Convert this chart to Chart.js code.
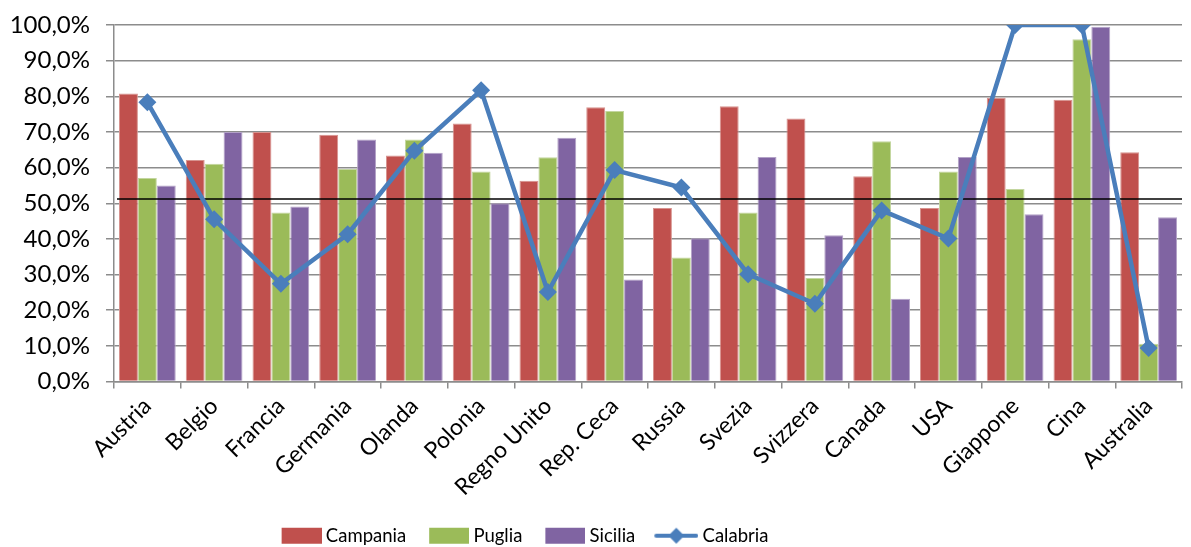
<!DOCTYPE html>
<html>
<head>
<meta charset="utf-8">
<script src="https://cdn.jsdelivr.net/npm/chart.js@4/dist/chart.umd.min.js"></script>
<style>
    body { margin: 0; background: #fff; }
    canvas { display: block; }
</style>
</head>
<body>
<canvas id="chart" width="1191" height="547"></canvas>
<script>
// Chart data
const countries = ['Austria', 'Belgio', 'Francia', 'Germania', 'Olanda', 'Polonia', 'Regno Unito', 'Rep. Ceca',
    'Russia', 'Svezia', 'Svizzera', 'Canada', 'USA', 'Giappone', 'Cina', 'Australia'];
const campania = [80.8, 62.1, 70.0, 69.2, 63.4, 72.4, 56.3, 76.9, 48.7, 77.2, 73.8, 57.6, 48.7, 79.6, 79.0, 64.3];
const puglia   = [57.1, 61.1, 47.4, 59.6, 67.9, 58.9, 62.9, 75.9, 34.8, 47.4, 29.0, 67.4, 58.9, 54.0, 96.0, 10.6];
const sicilia  = [55.0, 70.0, 49.1, 67.9, 64.2, 50.0, 68.4, 28.6, 40.2, 63.0, 41.0, 23.2, 63.0, 46.9, 99.5, 46.1];
const calabria = [78.3, 45.5, 27.4, 41.3, 64.7, 81.7, 25.1, 59.3, 54.4, 30.1, 21.8, 48.0, 40.1, 100, 100, 9.4];
const yTickLabels = ['0,0%', '10,0%', '20,0%', '30,0%', '40,0%', '50,0%', '60,0%', '70,0%', '80,0%', '90,0%', '100,0%'];
const referenceLine = 51.2;

const FONT = "Lato, 'DejaVu Sans', sans-serif";

// Legend swatch images (box for bars, line with diamond for Calabria).
// The image is wider than the legend box so the empty left part acts as spacing.
function makeSwatch(color, isLine) {
    const c = document.createElement('canvas');
    c.width = 66;
    c.height = 18;
    const g = c.getContext('2d');
    if (isLine) {
        g.strokeStyle = color;
        g.lineWidth = 4;
        g.lineCap = 'round';
        g.beginPath();
        g.moveTo(24, 9);
        g.lineTo(64, 9);
        g.stroke();
        g.fillStyle = color;
        g.beginPath();
        g.moveTo(44, 1);
        g.lineTo(52, 9);
        g.lineTo(44, 17);
        g.lineTo(36, 9);
        g.closePath();
        g.fill();
    } else {
        g.fillStyle = color;
        g.fillRect(26, 1, 40, 16);
    }
    return c;
}

// Black reference line, drawn over the bars but under the Calabria line
const refLinePlugin = {
    id: 'refLine',
    afterDatasetDraw(chart, args) {
        if (args.index !== 0) return;
        const { ctx, chartArea, scales } = chart;
        const y = scales.y.getPixelForValue(referenceLine);
        ctx.save();
        ctx.strokeStyle = '#000';
        ctx.lineWidth = 1.5;
        ctx.beginPath();
        ctx.moveTo(chartArea.left + 3, y);
        ctx.lineTo(chartArea.right, y);
        ctx.stroke();
        ctx.restore();
    }
};

// Move the legend to where it sits in the original
const legendShift = {
    id: 'legendShift',
    afterLayout(chart) {
        const lg = chart.legend;
        lg.left -= 80;
        lg.right -= 80;
        lg.top += 8;
        lg.bottom += 8;
    }
};

const ctx = document.getElementById('chart').getContext('2d');
new Chart(ctx, {
    type: 'bar',
    data: {
        labels: countries,
        datasets: [
            { label: 'Campania', data: campania, backgroundColor: '#C0504D', borderColor: '#D7938F', borderWidth: 1 },
            { label: 'Puglia', data: puglia, backgroundColor: '#9BBB59', borderColor: '#C3D69F', borderWidth: 1 },
            { label: 'Sicilia', data: sicilia, backgroundColor: '#8064A2', borderColor: '#B3A2C7', borderWidth: 1 },
            {
                label: 'Calabria',
                type: 'line',
                data: calabria,
                order: -1,
                borderColor: '#4A7EBB',
                backgroundColor: '#4A7EBB',
                borderWidth: 4.5,
                pointStyle: 'rectRot',
                pointRadius: 9,
                pointBorderWidth: 0,
                tension: 0
            }
        ]
    },
    options: {
        responsive: false,
        animation: false,
        layout: { padding: { top: 25, right: 2, left: 0, bottom: 0 } },
        datasets: {
            bar: { categoryPercentage: 0.85, barPercentage: 1.0 }
        },
        scales: {
            x: {
                afterFit: scale => {
                    scale.height = 135;
                    scale.paddingLeft = 0;
                    scale.paddingRight = 0;
                },
                grid: { display: true, drawOnChartArea: false, color: '#8c8c8c', lineWidth: 1.5, tickLength: 7 },
                border: { color: '#8c8c8c', width: 1.5 },
                ticks: {
                    color: '#000',
                    minRotation: 45,
                    maxRotation: 45,
                    padding: 4,
                    font: { family: FONT, size: 23 }
                }
            },
            y: {
                min: 0,
                max: 100,
                afterFit: scale => {
                    scale.width = 114;
                    scale.paddingTop = 0;
                    scale.paddingBottom = 0;
                },
                grid: { color: '#8c8c8c', lineWidth: 1.5, tickLength: 8 },
                border: { color: '#8c8c8c', width: 1.5 },
                ticks: {
                    stepSize: 10,
                    color: '#000',
                    padding: 16,
                    font: { family: FONT, size: 24 },
                    callback: (value, i) => yTickLabels[i]
                }
            }
        },
        plugins: {
            tooltip: { enabled: false },
            legend: {
                position: 'bottom',
                labels: {
                    color: '#000',
                    font: { family: FONT, size: 18.5 },
                    usePointStyle: true,
                    pointStyleWidth: 56,
                    padding: 2,
                    generateLabels: chart => chart.data.datasets.map((ds, i) => ({
                        text: ds.label,
                        datasetIndex: i,
                        pointStyle: makeSwatch(ds.backgroundColor, ds.type === 'line'),
                        fillStyle: ds.backgroundColor,
                        strokeStyle: ds.backgroundColor,
                        lineWidth: 0,
                        hidden: false
                    }))
                }
            }
        }
    },
    plugins: [refLinePlugin, legendShift]
});
</script>
</body>
</html>
